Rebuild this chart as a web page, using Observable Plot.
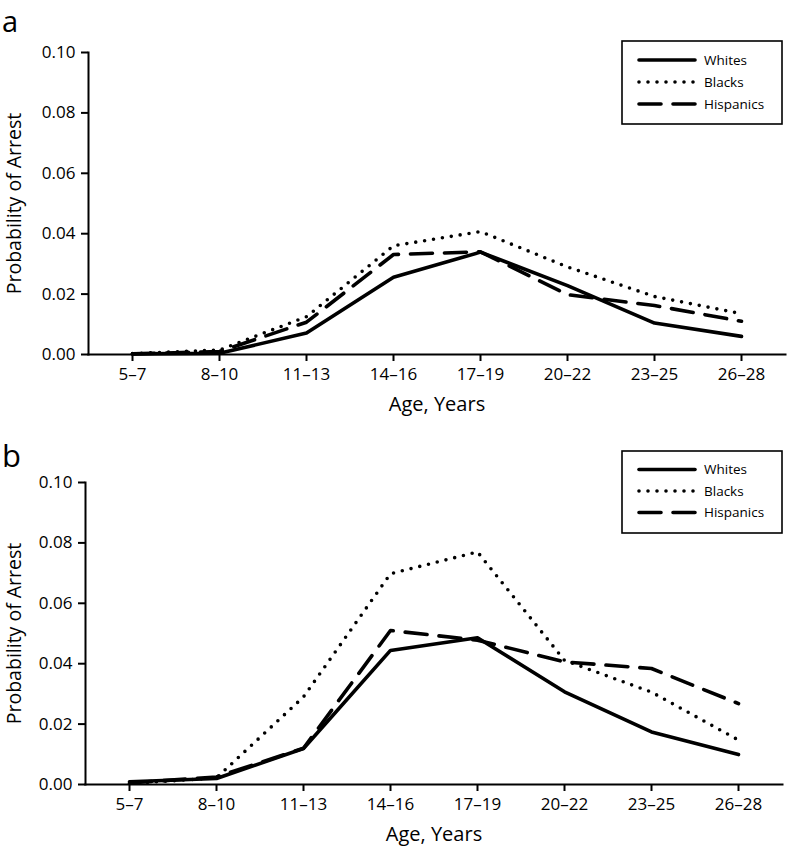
<!DOCTYPE html>
<html>
<head>
<meta charset="utf-8">
<script src="https://cdn.jsdelivr.net/npm/d3@7"></script>
<script src="https://cdn.jsdelivr.net/npm/@observablehq/plot@0.6"></script>
<style>
  body { margin: 0; background: #fff; font-family: "Open Sans", sans-serif; }
  .panel { position: relative; width: 787px; }
  .tag { position: absolute; font-family: "Open Sans", sans-serif; color: #000; line-height: 1; }
  .legend { position: absolute; left: 0; top: 0; }
</style>
</head>
<body>
<div id="panelA" class="panel"></div>
<div id="panelB" class="panel"></div>
<script>
// ---- data ----
const ageGroups = ["5–7", "8–10", "11–13", "14–16", "17–19", "20–22", "23–25", "26–28"];
const seriesNames = ["Whites", "Blacks", "Hispanics"];
const yTicks = [0, 0.02, 0.04, 0.06, 0.08, 0.10];

// Panel a
const whitesA    = [0.0002, 0.0004, 0.0071, 0.0256, 0.0339, 0.0228, 0.0104, 0.0060];
const blacksA    = [0.0003, 0.0015, 0.0125, 0.0360, 0.0407, 0.0290, 0.0192, 0.0135];
const hispanicsA = [0.0002, 0.0010, 0.0107, 0.0331, 0.0340, 0.0198, 0.0162, 0.0110];

// Panel b
const whitesB    = [0.0009, 0.0020, 0.0119, 0.0444, 0.0486, 0.0307, 0.0174, 0.0099];
const blacksB    = [0.0003, 0.0022, 0.0290, 0.0698, 0.0770, 0.0411, 0.0306, 0.0147];
const hispanicsB = [0.0005, 0.0025, 0.0120, 0.0510, 0.0478, 0.0406, 0.0384, 0.0268];

const styles = {
  Whites:    {strokeDasharray: null},
  Blacks:    {strokeDasharray: "0 9"},
  Hispanics: {strokeDasharray: "22 12"}
};

function table(w, b, h) {
  const rows = [];
  [w, b, h].forEach((vals, i) => {
    vals.forEach((v, j) => rows.push({series: seriesNames[i], age: ageGroups[j], value: v}));
  });
  return rows;
}

function makePlot(rows, opts) {
  const lines = seriesNames.map(s => Plot.line(rows.filter(d => d.series === s), {
    x: "age", y: "value", stroke: "#000", strokeWidth: 3.6,
    strokeLinecap: "round", strokeLinejoin: "round",
    strokeDasharray: styles[s].strokeDasharray
  }));
  return Plot.plot({
    width: 787,
    height: opts.height,
    marginTop: opts.marginTop,
    marginBottom: opts.marginBottom,
    marginLeft: opts.marginLeft,
    marginRight: opts.marginRight,
    style: {fontFamily: "Open Sans, sans-serif", fontSize: "17px", color: "#000", background: "#fff", overflow: "visible"},
    x: {type: "point", domain: ageGroups, padding: 0.5},
    y: {domain: [0, 0.1]},
    marks: [
      Plot.frame({anchor: "left", stroke: "#000", strokeWidth: 2}),
      Plot.frame({anchor: "bottom", stroke: "#000", strokeWidth: 2}),
      Plot.axisY({ticks: yTicks, tickFormat: d3.format(".2f"), tickSize: 7, tickPadding: 6, fontSize: 17, label: null, strokeWidth: 2}),
      Plot.axisX({tickSize: 7, tickPadding: 6, fontSize: 17, label: null, strokeWidth: 2}),
      ...lines,
      Plot.text(["Age, Years"], {frameAnchor: "bottom", lineAnchor: "middle", dy: 50, fontSize: 20, fill: "#000"}),
      Plot.text(["Probability of Arrest"], {frameAnchor: "left", textAnchor: "middle", lineAnchor: "middle", rotate: -90, dx: opts.ylabelDx, fontSize: 19.5, fill: "#000"})
    ]
  });
}

function makeLegend(container, box) {
  const svg = d3.select(container).append("svg")
    .attr("class", "legend").attr("width", 787).attr("height", 200)
    .style("overflow", "visible");
  svg.append("rect").attr("x", box.x).attr("y", box.y).attr("width", box.w).attr("height", box.h)
    .attr("fill", "#fff").attr("stroke", "#000").attr("stroke-width", 1.6);
  seriesNames.forEach((s, i) => {
    const yy = box.y + box.rowTop + i * box.rowGap;
    svg.append("line").attr("x1", box.x + 17).attr("x2", box.x + 73).attr("y1", yy).attr("y2", yy)
      .attr("stroke", "#000").attr("stroke-width", 3.6).attr("stroke-linecap", "round")
      .attr("stroke-dasharray", styles[s].strokeDasharray);
    svg.append("text").attr("x", box.x + 82).attr("y", yy).attr("dy", "0.35em")
      .attr("font-family", "Open Sans, sans-serif").attr("font-size", 13.5).text(s);
  });
}

function addTag(container, text, left, top, size) {
  const t = document.createElement("div");
  t.className = "tag";
  t.textContent = text;
  t.style.left = left + "px";
  t.style.top = top + "px";
  t.style.fontSize = size + "px";
  container.appendChild(t);
}

// Panel a
const pA = document.getElementById("panelA");
pA.appendChild(makePlot(table(whitesA, blacksA, hispanicsA),
  {height: 420, marginTop: 52, marginBottom: 66, marginLeft: 88, marginRight: 2, ylabelDx: -74}));
makeLegend(pA, {x: 622, y: 41, w: 160, h: 83, rowTop: 19, rowGap: 22});
addTag(pA, "a", 2, 6, 29);

// Panel b
const pB = document.getElementById("panelB");
pB.appendChild(makePlot(table(whitesB, blacksB, hispanicsB),
  {height: 432, marginTop: 62, marginBottom: 68, marginLeft: 85, marginRight: 5, ylabelDx: -71}));
makeLegend(pB, {x: 622, y: 31, w: 160, h: 82, rowTop: 18.5, rowGap: 21.5});
addTag(pB, "b", 2, 20, 31);
</script>
</body>
</html>
